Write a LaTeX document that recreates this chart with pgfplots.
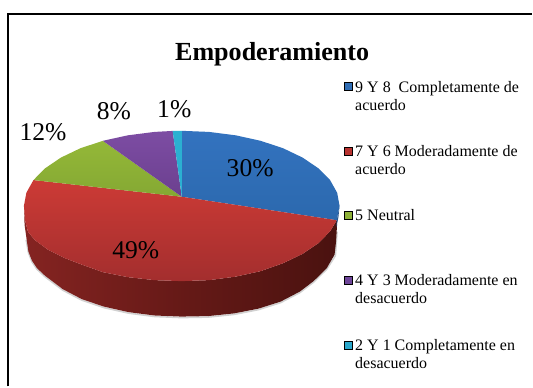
\documentclass[border=0pt]{standalone}
\usepackage{pgfplots}
\pgfplotsset{compat=1.18}
\usepackage{fontspec}
\setmainfont{Liberation Serif}
\pgfdeclarehorizontalshading{sideshade}{100bp}{
 rgb(0bp)=(0.62,0.17,0.16);
 rgb(25bp)=(0.52,0.14,0.13);
 rgb(50bp)=(0.40,0.10,0.09);
 rgb(75bp)=(0.29,0.07,0.06);
 rgb(90bp)=(0.33,0.08,0.07);
 rgb(100bp)=(0.45,0.11,0.10)}
\newcommand{\legtext}[3]{\node[anchor=base west, inner sep=0pt, font=\fontsize{16}{18}\selectfont] at (axis cs:#1,#2) {#3};}
\newcommand{\datlab}[3]{\node[anchor=base, inner sep=0pt, font=\fontsize{25.6}{30}\selectfont] at (axis cs:#1,#2) {#3};}
\begin{document}
\begin{tikzpicture}
\begin{axis}[
  scale only axis, width=533pt, height=387pt,
  xmin=0, xmax=533, ymin=0, ymax=387, y dir=reverse,
  axis lines=none, clip=false,
  anchor=south west, at={(0,0)},
]
\path (axis cs:0,0) (axis cs:533,387);
% frame
\addplot[draw=black, line width=1.4pt] coordinates {(8,387) (8,14) (533,14)};
% soft shadow
\addplot[draw=gray!60, line width=1.6pt, opacity=0.6] coordinates {
(337.5,232)(335.8,256)(327.2,269.5)(314,282.5)(300.2,293)(281,303)(259,310)(234.5,314.8)(208.4,317.5)(181.5,318)(154.6,316.9)(128.5,313.5)(104,308)(81.9,300.5)(62.8,290.5)(45,277)(37,269.5)(32,262)(28.5,253)(26.2,240)};
% side of red
\addplot[draw=none, shading=sideshade, shading angle=0] coordinates {
(337.2,220.5)(330.5,231.7)(318.8,243.5)(303,254.2)(283.6,263.5)(261,271.5)(236,277)(209.4,280.5)(182,281.5)(154.6,280.5)(128,277.5)(103,272.5)(82,265)(65,258.5)(48,250)(35,240.5)(28,232)(25,220)(24,206)
(24.6,225)(26.7,240)(28.5,252)(32,261)(37,268.5)(45,276)(62.8,289.5)(81.9,299.5)(104,307)(128.5,312.5)(154.6,315.9)(181.5,317)(208.4,316.5)(234.5,313.8)(259,309)(281,302)(300.2,292)(314,281.5)(327.2,268.5)(335,255)(336.5,242)(337.5,225)} -- cycle;
% blue side sliver
\addplot[draw=none, fill={rgb,1:red,0.15;green,0.33;blue,0.55}] coordinates {
(340,206)(337.2,220.5)(336.7,228)(338.8,218)} -- cycle;
% blue
\addplot[draw=none, top color={rgb,1:red,0.20;green,0.45;blue,0.75}, bottom color={rgb,1:red,0.17;green,0.41;blue,0.68}] coordinates {
(182,197)(182,131)(209.4,132.1)(236,135.5)(261,141)(283.6,148.5)(303,157.8)(318.8,168.5)(330.5,180.3)(337.6,193)(340,206)(337.2,220.5)} -- cycle;
% red
\addplot[draw=none, top color={rgb,1:red,0.80;green,0.23;blue,0.21}, bottom color={rgb,1:red,0.64;green,0.18;blue,0.18}] coordinates {
(182,197)(337.2,220.5)(330.5,231.7)(318.8,243.5)(303,254.2)(283.6,263.5)(261,271.5)(236,277)(209.4,280.5)(182,281.5)(154.6,280.5)(128,277.5)(103,272.5)(82,265)(65,258.5)(48,250)(35,240.5)(28,232)(25,220)(24,206)(26.4,193)(33.5,180.3)} -- cycle;
% green
\addplot[draw=none, top color={rgb,1:red,0.58;green,0.72;blue,0.22}, bottom color={rgb,1:red,0.52;green,0.66;blue,0.20}] coordinates {
(182,197)(33.5,180.3)(45.2,168.5)(61,157.8)(80.4,148.5)(103,141)} -- cycle;
% purple
\addplot[draw=none, top color={rgb,1:red,0.49;green,0.30;blue,0.64}, bottom color={rgb,1:red,0.42;green,0.25;blue,0.56}] coordinates {
(182,197)(103,141)(128,135.5)(154.6,132.1)(172.9,131.1)} -- cycle;
% cyan
\addplot[draw=none, fill={rgb,1:red,0.17;green,0.69;blue,0.82}] coordinates {
(182,197)(172.9,131.1)(182,131)} -- cycle;
% legend keys
\addplot[only marks, mark=square*, mark size=4pt, draw=none, mark options={draw=none, fill={rgb,1:red,0.19;green,0.43;blue,0.71}}] coordinates {(348.5,86.7)};
\addplot[only marks, mark=square*, mark size=4pt, draw=none, mark options={draw=none, fill={rgb,1:red,0.72;green,0.20;blue,0.19}}] coordinates {(348.5,151)};
\addplot[only marks, mark=square*, mark size=4pt, draw=none, mark options={draw=none, fill={rgb,1:red,0.56;green,0.70;blue,0.22}}] coordinates {(348.5,215)};
\addplot[only marks, mark=square*, mark size=4pt, draw=none, mark options={draw=none, fill={rgb,1:red,0.43;green,0.27;blue,0.60}}] coordinates {(348.5,280.7)};
\addplot[only marks, mark=square*, mark size=4pt, draw=none, mark options={draw=none, fill={rgb,1:red,0.17;green,0.66;blue,0.80}}] coordinates {(348.5,345.3)};
% title
\node[anchor=base, inner sep=0pt, font=\fontsize{26.1}{30}\selectfont\bfseries] at (axis cs:272.5,60.5) {Empoderamiento};
% data labels
\datlab{250.5}{177}{30\%}
\datlab{136}{259}{49\%}
\datlab{43}{141}{12\%}
\datlab{114}{120}{8\%}
\datlab{174.5}{118}{1\%}
% legend text
\legtext{355.5}{92.5}{9 Y 8\ \ Completamente de}
\legtext{355.5}{111}{acuerdo}
\legtext{355.5}{156.5}{7 Y 6 Moderadamente de}
\legtext{355.5}{175}{acuerdo}
\legtext{355.5}{220.5}{5 Neutral}
\legtext{355.5}{285.5}{4 Y 3 Moderadamente en}
\legtext{355.5}{304}{desacuerdo}
\legtext{355.5}{350.5}{2 Y 1 Completamente en}
\legtext{355.5}{369}{desacuerdo}
\end{axis}
\end{tikzpicture}
\end{document}
